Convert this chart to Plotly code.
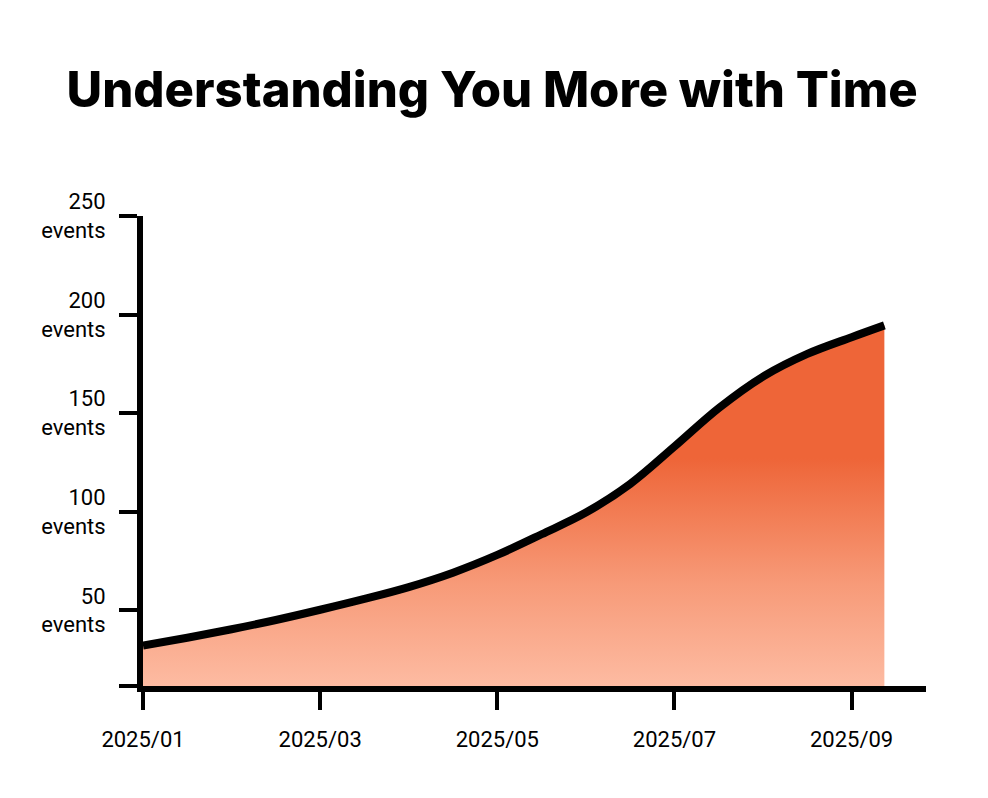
import plotly.graph_objects as go

# valores (x = índice do mês a partir de 2025/01, a cada meio mês)
meses = [0, 0.5, 1, 1.5, 2, 2.5, 3, 3.5, 4, 4.5, 5, 5.5, 6, 6.5, 7, 7.5, 8, 8.37]
eventos = [32, 36, 40.3, 45, 50.2, 55.7, 61.7, 69, 78, 88.5, 99.5, 114,
           133, 152.5, 168.5, 180, 188.5, 194.5]

tick_meses = [0, 2, 4, 6, 8]
tick_meses_texto = ["2025/01", "2025/03", "2025/05", "2025/07", "2025/09"]

tick_eventos = [11.5, 50, 100, 150, 200, 250]
tick_eventos_texto = ["", "50<br>events", "100<br>events", "150<br>events",
                      "200<br>events", "250<br>events"]

fig = go.Figure()

# área com gradiente vertical + linha grossa preta
fig.add_trace(go.Scatter(
    x=meses,
    y=eventos,
    mode="lines",
    line=dict(color="black", width=8, shape="spline", smoothing=1),
    fill="tozeroy",
    fillgradient=dict(
        type="vertical",
        start=11.5,
        stop=127,
        colorscale=[[0, "#FDBBA2"], [0.45, "#F79A78"], [1, "#EE6538"]],
    ),
    hoverinfo="skip",
    showlegend=False,
))

fig.update_layout(
    width=988,
    height=798,
    plot_bgcolor="white",
    paper_bgcolor="white",
    margin=dict(l=135, r=70, t=208, b=120),
    title=dict(
        text="Understanding You More with Time",
        x=0.49,
        xref="container",
        y=0.897,
        yanchor="middle",
        font=dict(family="Inter", size=49, color="black", weight=800),
    ),
    font=dict(family="Roboto", size=22, color="black"),
)

fig.update_xaxes(
    range=[0, 8.84],
    tickvals=tick_meses,
    ticktext=tick_meses_texto,
    showline=True,
    linecolor="black",
    linewidth=6,
    ticks="outside",
    ticklen=18,
    tickwidth=4,
    tickcolor="black",
    showgrid=False,
    zeroline=False,
    ticklabelstandoff=11,
)

fig.update_yaxes(
    range=[11.5, 250],
    tickvals=tick_eventos,
    ticktext=tick_eventos_texto,
    showline=True,
    linecolor="black",
    linewidth=6,
    ticks="outside",
    ticklen=18,
    tickwidth=4,
    tickcolor="black",
    showgrid=False,
    zeroline=False,
    ticklabelstandoff=9,
)

fig.write_html("out.html")
